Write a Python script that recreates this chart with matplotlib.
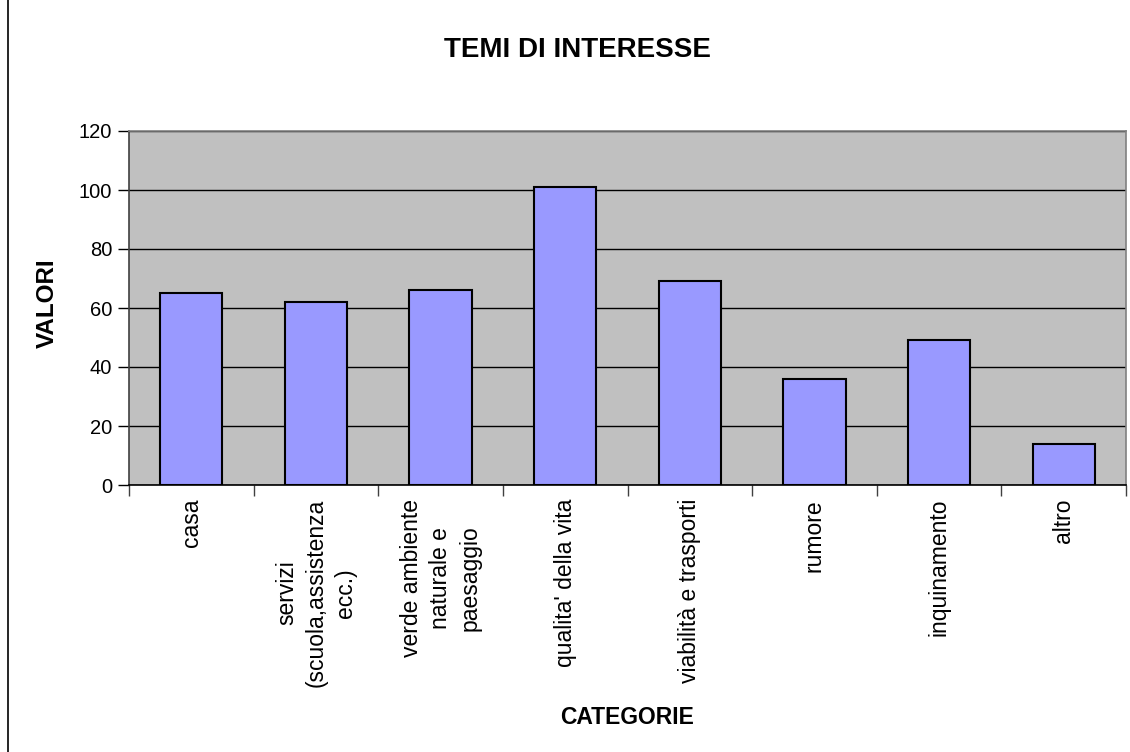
import matplotlib
matplotlib.use("Agg")
import matplotlib.pyplot as plt
from matplotlib.patches import Rectangle
import numpy as np

plt.rcParams['font.family'] = ['Liberation Sans', 'DejaVu Sans']

categories = ["casa", "servizi\n(scuola,assistenza\necc.)", "verde ambiente\nnaturale e\npaesaggio",
              "qualita' della vita", "viabilità e trasporti", "rumore", "inquinamento", "altro"]
values = [65, 62, 66, 101, 69, 36, 49, 14]
yticks = [0, 20, 40, 60, 80, 100, 120]

W, H = 1130, 752
fig = plt.figure(figsize=(W / 100, H / 100), dpi=100)
fig.patch.set_facecolor('white')

left, right, top, bottom = 129, 1126, 131, 485
ax = fig.add_axes([left / W, 1 - bottom / H, (right - left) / W, (bottom - top) / H])
ax.set_facecolor('#C0C0C0')

x = np.arange(len(categories))
ax.bar(x, values, width=0.5, color='#9999FF', edgecolor='black', linewidth=1.5, zorder=3)

ax.set_xlim(-0.5, len(categories) - 0.5)
ax.set_ylim(0, 120)
ax.set_yticks(yticks)
ax.set_yticklabels([str(v) for v in yticks], fontsize=14.5)
ax.yaxis.grid(True, color='black', linewidth=1.0, zorder=1)
ax.set_axisbelow(True)

ax.set_xticks(x)
ax.set_xticklabels(categories, rotation=90, fontsize=16.5, ha='center', va='top',
                   multialignment='center', linespacing=1.36)
ax.tick_params(axis='x', which='major', length=0, pad=10)
ax.set_xticks(np.arange(-0.5, len(categories), 1.0), minor=True)
ax.tick_params(axis='x', which='minor', length=8, width=1, color='#404040', direction='out')
ax.tick_params(axis='y', length=8, width=1, color='black', direction='out', pad=4)

for s in ['top', 'right']:
    ax.spines[s].set_color('#808080')
    ax.spines[s].set_linewidth(1.2)
ax.spines['left'].set_color('#404040')
ax.spines['left'].set_linewidth(1.2)
ax.spines['bottom'].set_color('black')
ax.spines['bottom'].set_linewidth(1.2)
ax.spines['bottom'].set_zorder(4)

fig.text(577 / W, 1 - 50 / H, "TEMI DI INTERESSE", fontsize=20, fontweight='bold',
         ha='center', va='center')
fig.text(47 / W, 1 - 303 / H, "VALORI", fontsize=17.5, fontweight='bold',
         ha='center', va='center', rotation=90)
fig.text(627 / W, 1 - 718 / H, "CATEGORIE", fontsize=16.5, fontweight='bold',
         ha='center', va='center')

fig.add_artist(Rectangle((8 / W, -0.2), 1.2, 1.2 + (1 - 11 / H), transform=fig.transFigure,
                         fill=False, edgecolor='black', linewidth=1.2))

fig.savefig("out.png", dpi=100)
